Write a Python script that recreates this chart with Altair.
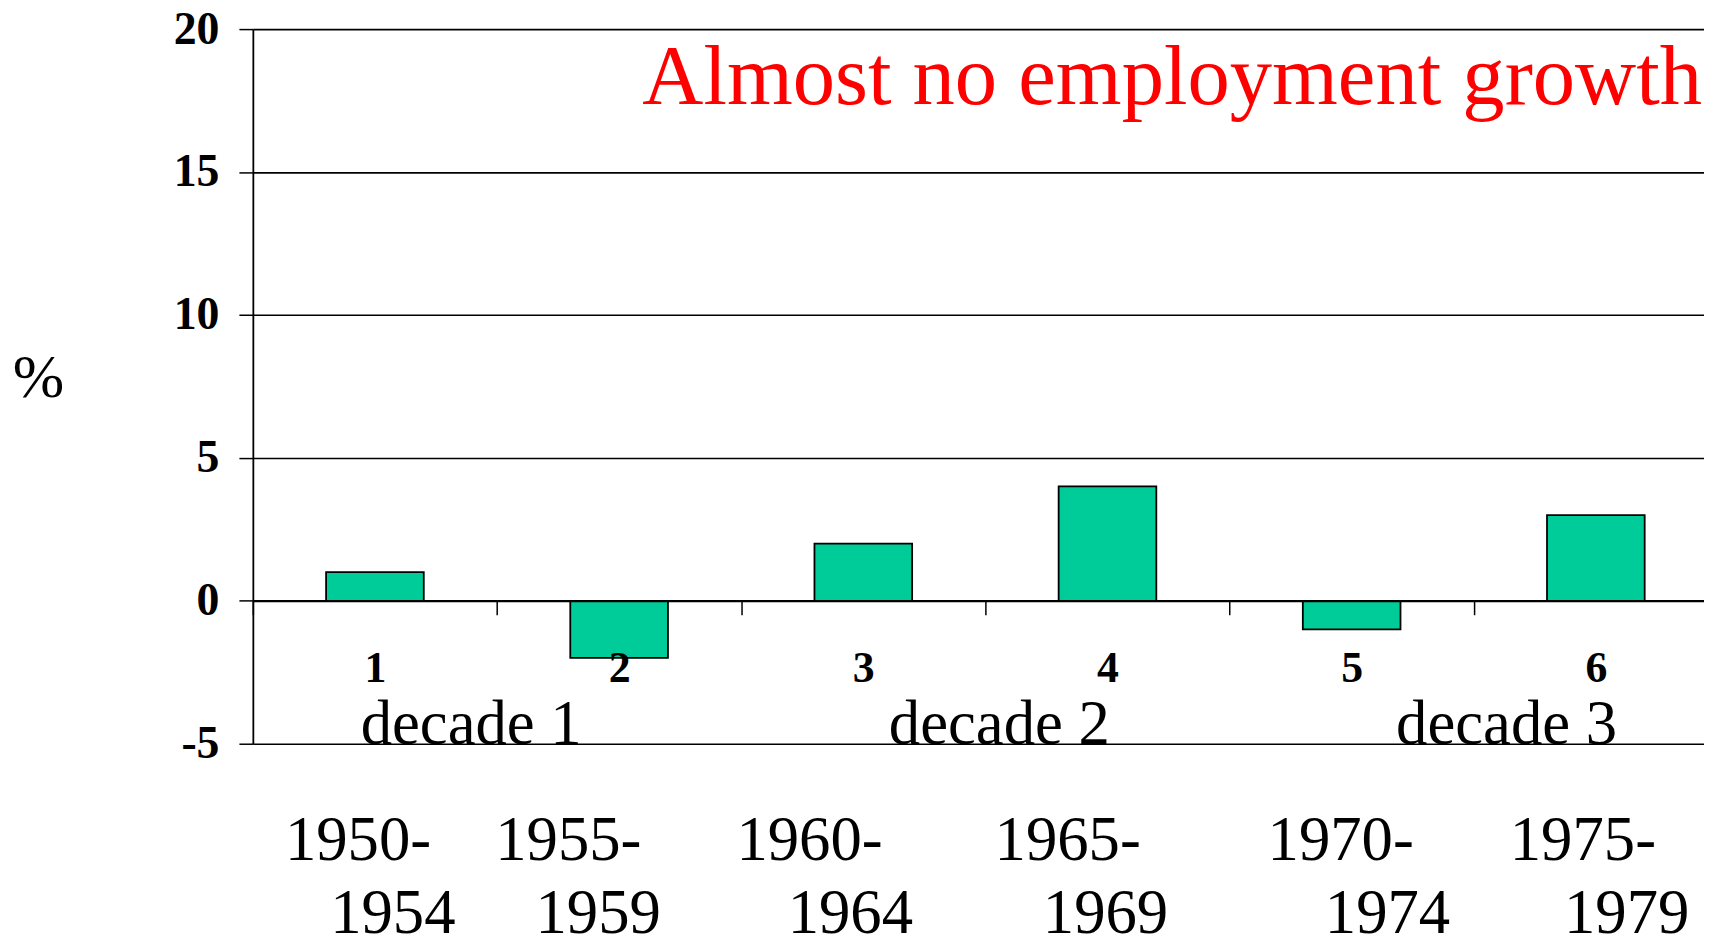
import altair as alt
import pandas as pd

# ---- data ----
PERIODS = ["1", "2", "3", "4", "5", "6"]
GROWTH = [1, -2, 2, 4, -1, 3]
YEAR_START = ["1950-", "1955-", "1960-", "1965-", "1970-", "1975-"]
YEAR_END = ["1954", "1959", "1964", "1969", "1974", "1979"]
DECADES = ["decade 1", "decade 2", "decade 3"]
DECADE_AFTER = ["1", "3", "5"]          # decade label sits at the end of this period's band
Y_TICKS = [-5, 0, 5, 10, 15, 20]
Y_DOMAIN = [-5, 20]
TITLE = "Almost no employment growth"

# ---- layout / style ----
FONT = "Liberation Serif"
W, H = 1458, 718
X_RANGE = [0, 1472]
ZERO_PX = H * (Y_DOMAIN[1] - 0) / (Y_DOMAIN[1] - Y_DOMAIN[0])
DECADE_DX = [-26, 14, 33]
START_DX = [-17, -51, -54, -40, -11, -13]
END_DX = [18, -21, -13, -2, 36, 31]
LINE1_Y, LINE2_Y = 835, 908

xscale = alt.Scale(domain=PERIODS, range=X_RANGE, paddingInner=0, paddingOuter=0)
yscale = alt.Scale(domain=Y_DOMAIN, nice=False, zero=False)

df = pd.DataFrame({"period": PERIODS, "growth": GROWTH})

bars = alt.Chart(df).mark_bar(
    width=alt.RelativeBandSize(0.4), color="#00CC99", stroke="black", strokeWidth=1.8
).encode(
    x=alt.X("period:N", scale=xscale, sort=PERIODS, axis=alt.Axis(
        title=None, orient="bottom", offset=-(H - ZERO_PX), zindex=1,
        domain=True, domainColor="black", domainWidth=1.8,
        ticks=True, tickBand="extent", tickSize=14, tickColor="black", tickWidth=1.5,
        labelFont=FONT, labelFontWeight="bold", labelFontSize=44, labelColor="black",
        labelPadding=32, labelAngle=0, grid=False)),
    y=alt.Y("growth:Q", scale=yscale, axis=alt.Axis(
        values=Y_TICKS, labelExpr="datum.value + ''",
        title="%", titleAngle=0, titleFont=FONT, titleFontSize=62, titleFontWeight="normal",
        titleColor="black", titleX=-216, titleY=350, titleAlign="center", titleBaseline="middle",
        labelFont=FONT, labelFontWeight="bold", labelFontSize=46, labelColor="black",
        labelPadding=20, tickSize=14, tickColor="black", tickWidth=1.5,
        domainColor="black", domainWidth=1.8,
        grid=True, gridColor="black", gridWidth=1.6)),
    y2=alt.datum(0),
)

layers = [bars]

for label, after, dx in zip(DECADES, DECADE_AFTER, DECADE_DX):
    d = pd.DataFrame({"period": [after], "label": [label]})
    layers.append(alt.Chart(d).mark_text(
        font=FONT, fontSize=63, align="center", baseline="alphabetic", dx=dx, color="black"
    ).encode(
        x=alt.X("period:N", scale=xscale, bandPosition=1),
        y=alt.datum(Y_DOMAIN[0]),
        text="label:N",
    ))

for p, s, e, dx1, dx2 in zip(PERIODS, YEAR_START, YEAR_END, START_DX, END_DX):
    for txt, dx, yy in ((s, dx1, LINE1_Y), (e, dx2, LINE2_Y)):
        d = pd.DataFrame({"period": [p], "label": [txt]})
        layers.append(alt.Chart(d).mark_text(
            font=FONT, fontSize=63, align="center", baseline="alphabetic", dx=dx, color="black"
        ).encode(
            x=alt.X("period:N", scale=xscale),
            y=alt.value(yy),
            text="label:N",
        ))

title_df = pd.DataFrame({"label": [TITLE]})
layers.append(alt.Chart(title_df).mark_text(
    font=FONT, fontSize=85, align="right", baseline="alphabetic", color="#FF0000"
).encode(
    x=alt.value(1456), y=alt.value(75), text="label:N"
))

chart = alt.layer(*layers).properties(
    width=W, height=H,
    autosize=alt.AutoSizeParams(type="none"),
    padding={"left": 246, "top": 19, "right": 0, "bottom": 193},
    background="white",
).configure_view(stroke=None)

chart.save("out.html", embed_options={"renderer": "svg", "actions": False})
